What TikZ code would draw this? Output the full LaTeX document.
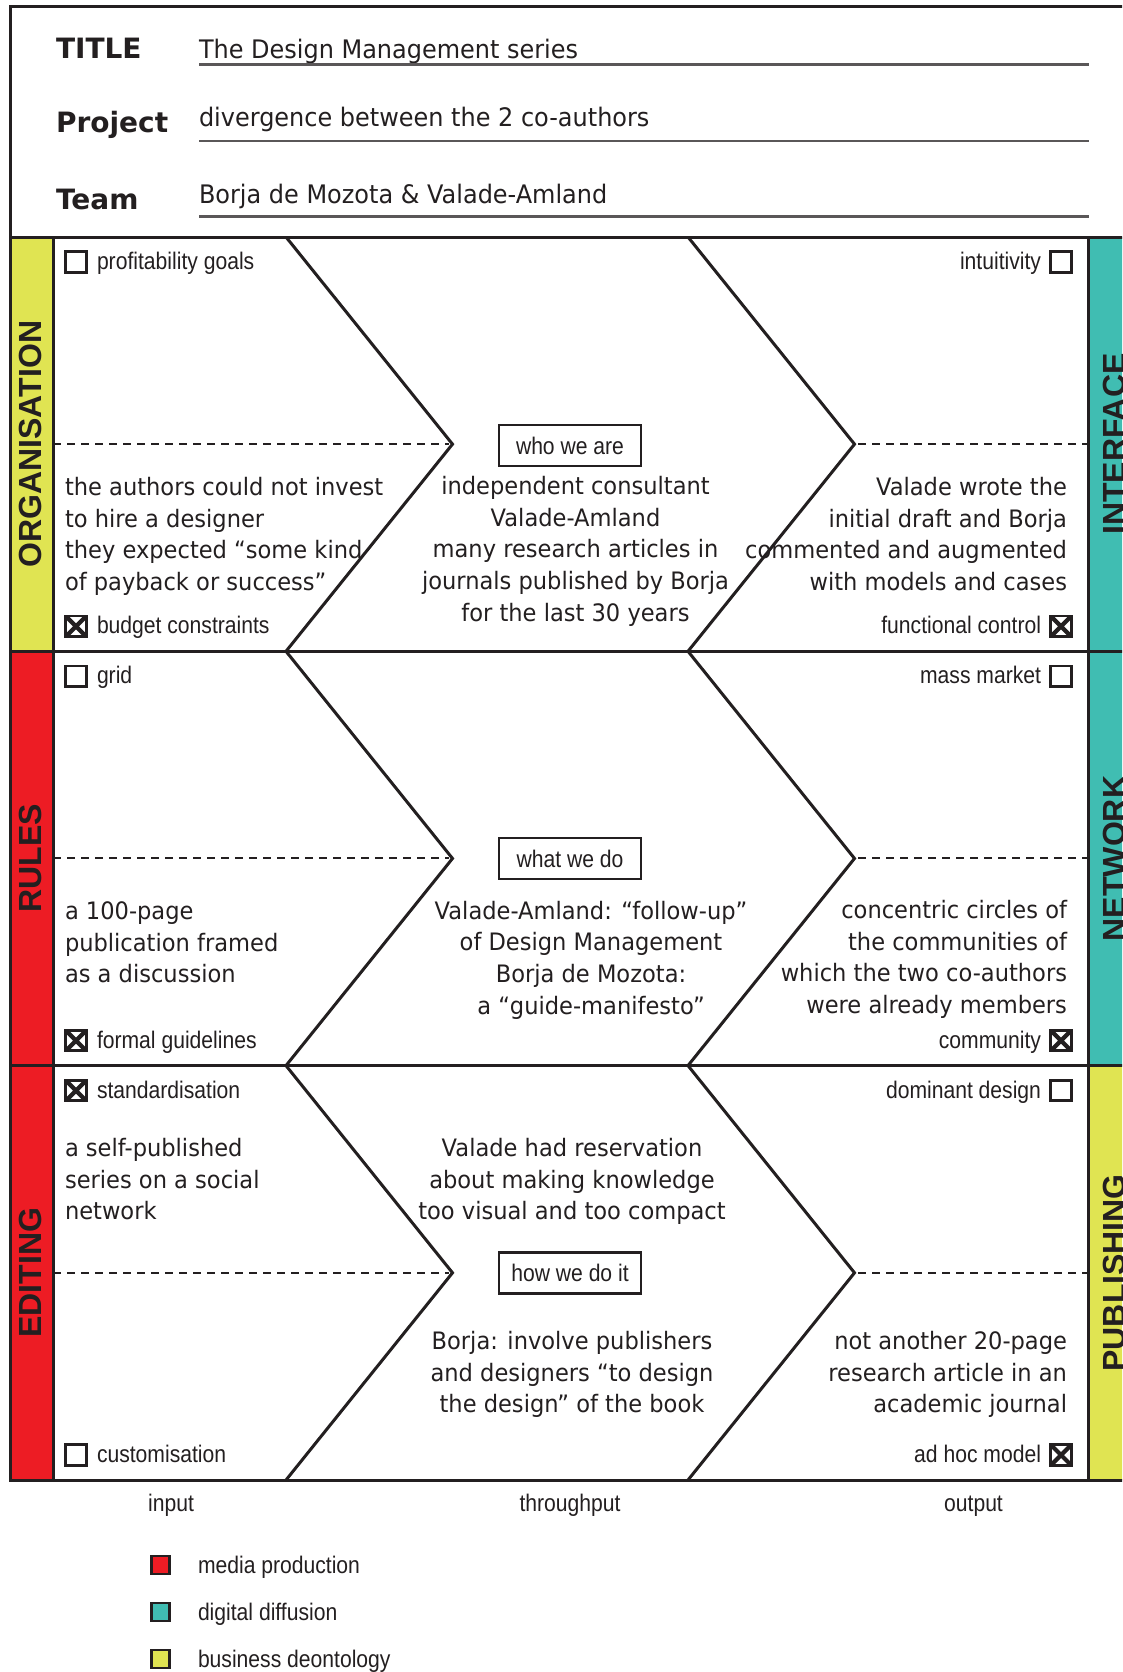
\documentclass[tikz,border=0pt]{standalone}
\usepackage{fontspec}
\newfontfamily\handfont[FakeStretch=0.94]{DejaVu Sans}
\newfontfamily\headfont{DejaVu Sans}
\newfontfamily\narrowfont[FakeStretch=0.88]{Liberation Sans}
\newfontfamily\stripfont{Liberation Sans}
\definecolor{ink}{HTML}{231F20}
\definecolor{cyel}{HTML}{E0E452}
\definecolor{cred}{HTML}{ED1C24}
\definecolor{cteal}{HTML}{40BDB2}
\begin{document}
\begin{tikzpicture}[x=1pt,y=-1pt,
  frame/.style={draw=ink,line width=3pt},
  chev/.style={draw=ink,line width=3pt,line join=miter},
  dashline/.style={draw=ink,line width=2pt,dash pattern=on 8pt off 6pt},
  uline/.style={draw=ink!75,line width=2.5pt},
  hand/.style={font=\handfont\fontsize{24}{31.7}\selectfont,inner sep=0pt,outer sep=0pt,text=ink},
  headval/.style={font=\handfont\fontsize{25.5}{28}\selectfont,inner sep=0pt,outer sep=0pt,text=ink},
  headlab/.style={font=\headfont\bfseries\fontsize{28}{30}\selectfont,inner sep=0pt,outer sep=0pt,text=ink},
  lab/.style={font=\narrowfont\fontsize{24}{28}\selectfont,inner sep=0pt,outer sep=0pt,text=ink},
  striplab/.style={font=\stripfont\bfseries\fontsize{32}{32}\selectfont,inner sep=0pt,outer sep=0pt,text=ink,rotate=90},
  tagbox/.style={draw=ink,line width=2.5pt,minimum width=142pt,minimum height=41pt,inner sep=0pt,font=\narrowfont\fontsize{24}{28}\selectfont,text=ink},
  cbox/.style={draw=ink,line width=2.8pt,minimum size=20.5pt,inner sep=0pt,fill=white},
  cmark/.style={cbox,path picture={\draw[ink,line width=4.2pt]
      (path picture bounding box.south west) -- (path picture bounding box.north east)
      (path picture bounding box.north west) -- (path picture bounding box.south east);}},
  legsq/.style={draw=ink,line width=2.5pt,minimum size=18pt,inner sep=0pt}
]
\clip (0,0) rectangle (1122,1672);
\fill[white] (0,0) rectangle (1122,1672);
% colour strips
\fill[cyel] (10,237) rectangle (53,651.3);
\fill[cred] (10,651.3) rectangle (53,1065.6);
\fill[cred] (10,1065.6) rectangle (53,1480);
\fill[cteal] (1088,237) rectangle (1140,651.3);
\fill[cteal] (1088,651.3) rectangle (1140,1065.6);
\fill[cyel] (1088,1065.6) rectangle (1140,1480);
% frame and grid
\draw[frame] (10,7) rectangle (1140,1480);
\draw[frame] (10,237) -- (1140,237);
\draw[frame] (10,651.3) -- (1140,651.3);
\draw[frame] (10,1065.6) -- (1140,1065.6);
\draw[frame] (53,237) -- (53,1480);
\draw[frame] (1088,237) -- (1088,1480);
% chevrons and dashed lines
\foreach \t/\m/\b in {237/444.15/651.3, 651.3/858.45/1065.6, 1065.6/1272.8/1480}{
  \draw[chev] (286,\t) -- (452.5,\m) -- (286,\b);
  \draw[chev] (688,\t) -- (854.5,\m) -- (688,\b);
  \draw[dashline] (53,\m) -- (449,\m);
  \draw[dashline] (858,\m) -- (1088,\m);
}
% header
\node[headlab,anchor=base west] (hTitle) at (56,58.3) {TITLE};
\node[headlab,anchor=base west] (hProject) at (56,133) {Project};
\node[headlab,anchor=base west] (hTeam) at (56,210) {Team};
\node[headval,anchor=base west] (vTitle) at (199,58.3) {The Design Management series};
\node[headval,anchor=base west] (vProject) at (199,127) {divergence between the 2 co-authors};
\node[headval,anchor=base west] (vTeam) at (199,204) {Borja de Mozota \& Valade-Amland};
\draw[uline] (199,64.5) -- (1089,64.5);
\draw[uline] (199,141) -- (1089,141);
\draw[uline] (199,216.7) -- (1089,216.7);
% strip labels
\node[striplab] (sOrg) at (30.5,444.15) {ORGANISATION};
\node[striplab] (sRules) at (30.5,858.45) {RULES};
\node[striplab] (sEdit) at (30.5,1272.8) {EDITING};
\node[striplab] (sInt) at (1114.5,444.15) {INTERFACE};
\node[striplab] (sNet) at (1114.5,858.45) {NETWORK};
\node[striplab] (sPub) at (1114.5,1272.8) {PUBLISHING};
% check boxes - row 1
\node[cbox] (c1) at (76,262) {};
\node[lab,anchor=base west] at (97,269.5) {profitability goals};
\node[cmark] (c2) at (76,626.3) {};
\node[lab,anchor=base west] at (97,633.8) {budget constraints};
\node[cbox] (c3) at (1061,262) {};
\node[lab,anchor=base east] at (1041,269.5) {intuitivity};
\node[cmark] (c4) at (1061,626.3) {};
\node[lab,anchor=base east] at (1041,633.8) {functional control};
% row 2
\node[cbox] (c5) at (76,676.3) {};
\node[lab,anchor=base west] at (97,683.8) {grid};
\node[cmark] (c6) at (76,1040.6) {};
\node[lab,anchor=base west] at (97,1048.1) {formal guidelines};
\node[cbox] (c7) at (1061,676.3) {};
\node[lab,anchor=base east] at (1041,683.8) {mass market};
\node[cmark] (c8) at (1061,1040.6) {};
\node[lab,anchor=base east] at (1041,1048.1) {community};
% row 3
\node[cmark] (c9) at (76,1090.6) {};
\node[lab,anchor=base west] at (97,1098.1) {standardisation};
\node[cbox] (c10) at (76,1455) {};
\node[lab,anchor=base west] at (97,1462.5) {customisation};
\node[cbox] (c11) at (1061,1090.6) {};
\node[lab,anchor=base east] at (1041,1098.1) {dominant design};
\node[cmark] (c12) at (1061,1455) {};
\node[lab,anchor=base east] at (1041,1462.5) {ad hoc model};
% tags
\node[tagbox] (tWho) at (570,445.5) {who we are};
\node[tagbox] (tWhat) at (570,858.5) {what we do};
\node[tagbox] (tHow) at (570,1273) {how we do it};
% row 1 texts
\node[hand,align=left,anchor=north west] (t1L) at (65,473.3)
  {\strut the authors could not invest\\to hire a designer\\they expected “some kind\\of payback or success”};
\node[hand,align=center,anchor=north] (t1M) at (575.5,472.3)
  {\strut independent consultant\\Valade-Amland\\many research articles in\\journals published by Borja\\for the last 30 years};
\node[hand,align=right,anchor=north east] (t1R) at (1067,473.3)
  {\strut Valade wrote the\\initial draft and Borja\\commented and augmented\\with models and cases};
% row 2 texts
\node[hand,align=left,anchor=north west] (t2L) at (65,897.3)
  {\strut a 100-page\\publication framed\\as a discussion};
\node[hand,align=center,anchor=north] (t2M) at (591,896.8)
  {\strut Valade-Amland: “follow-up”\\of Design Management\\Borja de Mozota:\\a “guide-manifesto”};
\node[hand,align=right,anchor=north east] (t2R) at (1067,896.3)
  {\strut concentric circles of\\the communities of\\which the two co-authors\\were already members};
% row 3 texts
\node[hand,align=left,anchor=north west] (t3L) at (65,1134.3)
  {\strut a self-published\\series on a social\\network};
\node[hand,align=center,anchor=north] (t3Ma) at (572,1134.3)
  {\strut Valade had reservation\\about making knowledge\\too visual and too compact};
\node[hand,align=center,anchor=north] (t3Mb) at (572,1327.3)
  {\strut Borja: involve publishers\\and designers “to design\\the design” of the book};
\node[hand,align=right,anchor=north east] (t3R) at (1067,1327.3)
  {\strut not another 20-page\\research article in an\\academic journal};
% column labels
\node[lab,anchor=base] (cIn) at (171,1511) {input};
\node[lab,anchor=base] (cThr) at (570,1511) {throughput};
\node[lab,anchor=base] (cOut) at (973.5,1511) {output};
% legend
\node[legsq,fill=cred] (lg1) at (160.5,1565) {};
\node[lab,anchor=base west] (lt1) at (198,1573) {media production};
\node[legsq,fill=cteal] (lg2) at (160.5,1612) {};
\node[lab,anchor=base west] (lt2) at (198,1620) {digital diffusion};
\node[legsq,fill=cyel] (lg3) at (160.5,1659) {};
\node[lab,anchor=base west] (lt3) at (198,1667) {business deontology};
\end{tikzpicture}
\end{document}
